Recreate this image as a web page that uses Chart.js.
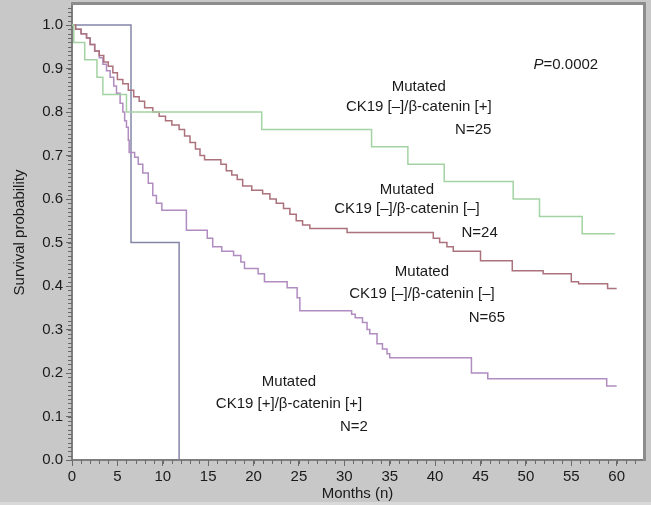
<!DOCTYPE html>
<html>
<head>
<meta charset="utf-8">
<script src="https://cdn.jsdelivr.net/npm/chart.js@4/dist/chart.umd.min.js"></script>
<style>
  html, body { margin: 0; padding: 0; background: #c8c8c8; }
  canvas { display: block; }
</style>
</head>
<body>
<canvas id="c" width="651" height="505" style="width:651px;height:505px"></canvas>
<script>
// ---------- data ----------
const xTickValues = [0, 5, 10, 15, 20, 25, 30, 35, 40, 45, 50, 55, 60];
const yTickValues = [0, 0.1, 0.2, 0.3, 0.4, 0.5, 0.6, 0.7, 0.8, 0.9, 1.0];

// CK19 [+]/β-catenin [+], N=2
const blueMonths = [0, 6.5, 11.8];
const blueSurv   = [1.0, 0.5, 0.0];

// CK19 [–]/β-catenin [+], N=25
const greenMonths = [0, 0.2, 1.4, 2.75, 3.4, 6.0, 20.9, 33.0, 37.0, 41.0, 48.6, 51.5, 56.2, 59.8];
const greenSurv   = [1.0, 0.96, 0.92, 0.88, 0.84, 0.80, 0.76, 0.72, 0.68, 0.64, 0.60, 0.56, 0.52, 0.52];

// CK19 [–]/β-catenin [–], N=24 (upper red curve)
const redMonths = [0, 0.4, 1.0, 1.6, 2.0, 2.5, 3.0, 3.5, 4.0, 4.5, 5.0, 5.6, 6.2, 6.8, 7.4, 8.0, 8.9, 9.6, 10.3, 11.0, 11.8,
  12.4, 13.0, 13.6, 14.1, 14.6, 16.4, 17.0, 17.6, 18.2, 18.8, 19.8, 21.0, 21.8, 22.5, 23.3, 24.0, 24.7, 25.4, 26.2, 30.3,
  39.8, 40.5, 41.3, 42.0, 45.0, 48.5, 51.9, 55.0, 55.8, 59.0, 60.0];
const redSurv = [1.0, 0.99, 0.98, 0.97, 0.955, 0.94, 0.93, 0.915, 0.905, 0.89, 0.875, 0.865, 0.85, 0.835, 0.825, 0.81, 0.80, 0.79, 0.78, 0.77, 0.76,
  0.745, 0.73, 0.715, 0.70, 0.69, 0.68, 0.665, 0.655, 0.645, 0.63, 0.62, 0.612, 0.60, 0.59, 0.578, 0.565, 0.55, 0.54, 0.532, 0.523,
  0.51, 0.50, 0.49, 0.48, 0.458, 0.435, 0.428, 0.41, 0.405, 0.394, 0.394];

// CK19 [–]/β-catenin [–], N=65 (lower purple curve)
const purpleMonths = [0, 0.4, 1.0, 1.6, 2.0, 2.5, 3.0, 3.4, 3.8, 4.2, 4.6, 4.9, 5.3, 5.6, 5.8, 6.0, 6.2, 6.3, 6.9, 7.3, 7.8, 8.4, 8.9,
  9.3, 9.9, 12.6, 14.9, 15.5, 16.5, 17.8, 18.6, 19.0, 20.5, 21.2, 23.7, 24.8, 25.1, 30.8, 31.2, 32.0, 32.5, 32.8, 33.6, 34.2,
  34.7, 35.0, 44.0, 45.8, 58.9, 60.0];
const purpleSurv = [1.0, 0.99, 0.98, 0.97, 0.955, 0.94, 0.925, 0.91, 0.895, 0.88, 0.86, 0.843, 0.82, 0.80, 0.78, 0.765, 0.735, 0.707, 0.696, 0.68, 0.66, 0.636, 0.608,
  0.59, 0.574, 0.528, 0.51, 0.49, 0.48, 0.47, 0.455, 0.44, 0.428, 0.41, 0.396, 0.373, 0.343, 0.335, 0.327, 0.316, 0.30, 0.29, 0.267, 0.255,
  0.244, 0.235, 0.20, 0.187, 0.17, 0.17];

// ---------- helpers ----------
const FONT = '"Liberation Sans", Arial, Helvetica, sans-serif';
function zip(ms, ss) { return ms.map((m, i) => ({ x: m, y: ss[i] })); }

// text annotations, placed in data units
const notes = [
  { x: 38.2, y: 0.857, t: 'Mutated' },
  { x: 38.2, y: 0.811, t: 'CK19 [–]/β-catenin [+]' },
  { x: 44.2, y: 0.759, t: 'N=25' },
  { x: 36.9, y: 0.621, t: 'Mutated' },
  { x: 36.9, y: 0.577, t: 'CK19 [–]/β-catenin [–]' },
  { x: 44.9, y: 0.522, t: 'N=24' },
  { x: 38.55, y: 0.432, t: 'Mutated' },
  { x: 38.55, y: 0.382, t: 'CK19 [–]/β-catenin [–]' },
  { x: 45.7, y: 0.326, t: 'N=65' },
  { x: 23.9, y: 0.179, t: 'Mutated' },
  { x: 23.9, y: 0.129, t: 'CK19 [+]/β-catenin [+]' },
  { x: 31.06, y: 0.076, t: 'N=2' }
];
const pNote = { x: 54.4, y: 0.908, italic: 'P', rest: '=0.0002' };

const framePlugin = {
  id: 'frame',
  beforeDraw(chart) {
    const { ctx, chartArea: a } = chart;
    ctx.save();
    ctx.fillStyle = '#c8c8c8';
    ctx.fillRect(0, 0, chart.width, chart.height);
    ctx.fillStyle = '#d9d9d9';
    ctx.fillRect(0, chart.height - 3, chart.width, 3);
    ctx.fillStyle = '#ffffff';
    ctx.fillRect(a.left, a.top, a.right - a.left, a.bottom - a.top);
    ctx.restore();
  },
  afterDraw(chart) {
    const { ctx, chartArea: a, scales } = chart;
    ctx.save();
    // top and right frame
    ctx.strokeStyle = '#8c8c8c';
    ctx.lineWidth = 3;
    ctx.beginPath();
    ctx.moveTo(a.left - 1, a.top - 1.5);
    ctx.lineTo(a.right + 1.5, a.top - 1.5);
    ctx.lineTo(a.right + 1.5, a.bottom + 1);
    ctx.stroke();
    // minor ticks
    ctx.strokeStyle = '#6a6a6a';
    ctx.lineWidth = 1;
    const xs = scales.x, ys = scales.y;
    ctx.beginPath();
    for (let m = 0; m <= 62; m += 1) {
      const px = Math.round(xs.getPixelForValue(m)) + 0.5;
      ctx.moveTo(px, a.bottom);
      ctx.lineTo(px, a.bottom + 4);
    }
    for (let k = 0; k <= 104; k += 1) {
      const py = Math.round(ys.getPixelForValue(k / 100)) + 0.5;
      ctx.moveTo(a.left, py);
      ctx.lineTo(a.left - 4, py);
    }
    ctx.stroke();
    ctx.restore();
  },
  afterDatasetsDraw(chart) {
    const { ctx, scales } = chart;
    const xs = scales.x, ys = scales.y;
    ctx.save();
    ctx.fillStyle = '#1a1a1a';
    ctx.font = '15px ' + FONT;
    ctx.textAlign = 'center';
    ctx.textBaseline = 'middle';
    notes.forEach(n => ctx.fillText(n.t, xs.getPixelForValue(n.x), ys.getPixelForValue(n.y)));
    // P value with italic P
    const cx = xs.getPixelForValue(pNote.x), cy = ys.getPixelForValue(pNote.y);
    ctx.font = 'italic 15px ' + FONT;
    const w1 = ctx.measureText(pNote.italic).width;
    ctx.font = '15px ' + FONT;
    const w2 = ctx.measureText(pNote.rest).width;
    const x0 = cx - (w1 + w2) / 2;
    ctx.textAlign = 'left';
    ctx.font = 'italic 15px ' + FONT;
    ctx.fillText(pNote.italic, x0, cy);
    ctx.font = '15px ' + FONT;
    ctx.fillText(pNote.rest, x0 + w1, cy);
    ctx.restore();
  }
};

const commonLine = { stepped: true, pointRadius: 0, borderWidth: 1.5, fill: false, tension: 0 };

new Chart(document.getElementById('c'), {
  type: 'line',
  data: {
    datasets: [
      Object.assign({ label: 'CK19 [–]/β-catenin [+] N=25', data: zip(greenMonths, greenSurv), borderColor: '#a3d3a3' }, commonLine),
      Object.assign({ label: 'CK19 [–]/β-catenin [–] N=24', data: zip(redMonths, redSurv), borderColor: '#ab727c' }, commonLine),
      Object.assign({ label: 'CK19 [–]/β-catenin [–] N=65', data: zip(purpleMonths, purpleSurv), borderColor: '#b08cc0' }, commonLine),
      Object.assign({ label: 'CK19 [+]/β-catenin [+] N=2', data: zip(blueMonths, blueSurv), borderColor: '#8486a8' }, commonLine)
    ]
  },
  options: {
    responsive: false,
    animation: false,
    devicePixelRatio: 1,
    layout: { padding: { top: 5, right: 8, left: 0, bottom: 0 } },
    plugins: { legend: { display: false }, tooltip: { enabled: false } },
    scales: {
      x: {
        type: 'linear', min: 0, max: 62.9,
        afterFit(s) { s.height = 45; s.paddingLeft = 0; s.paddingRight = 0; },
        afterBuildTicks(s) { s.ticks = xTickValues.map(v => ({ value: v })); },
        grid: { drawOnChartArea: false, drawTicks: true, tickLength: 6, tickColor: '#6a6a6a', tickWidth: 1 },
        border: { display: true, color: '#7e7e7e', width: 2 },
        ticks: { color: '#1a1a1a', font: { family: FONT, size: 15 }, padding: 2, maxRotation: 0, autoSkip: false,
          callback: v => String(v) },
        title: { display: true, text: 'Months (n)', color: '#1a1a1a', font: { family: FONT, size: 15, lineHeight: 1.2 },
          padding: { top: 0, bottom: 2 } }
      },
      y: {
        type: 'linear', min: 0, max: 1.046,
        afterFit(s) { s.width = 72; s.paddingTop = 0; s.paddingBottom = 0; },
        afterBuildTicks(s) { s.ticks = yTickValues.map(v => ({ value: v })); },
        grid: { drawOnChartArea: false, drawTicks: true, tickLength: 6, tickColor: '#6a6a6a', tickWidth: 1 },
        border: { display: true, color: '#7e7e7e', width: 2 },
        ticks: { color: '#1a1a1a', font: { family: FONT, size: 15 }, padding: 3, autoSkip: false,
          callback: v => Number(v).toFixed(1) },
        title: { display: true, text: 'Survival probability', color: '#1a1a1a', font: { family: FONT, size: 15, lineHeight: 1.2 },
          padding: { top: 11, bottom: 0 } }
      }
    }
  },
  plugins: [framePlugin]
});
</script>
</body>
</html>
